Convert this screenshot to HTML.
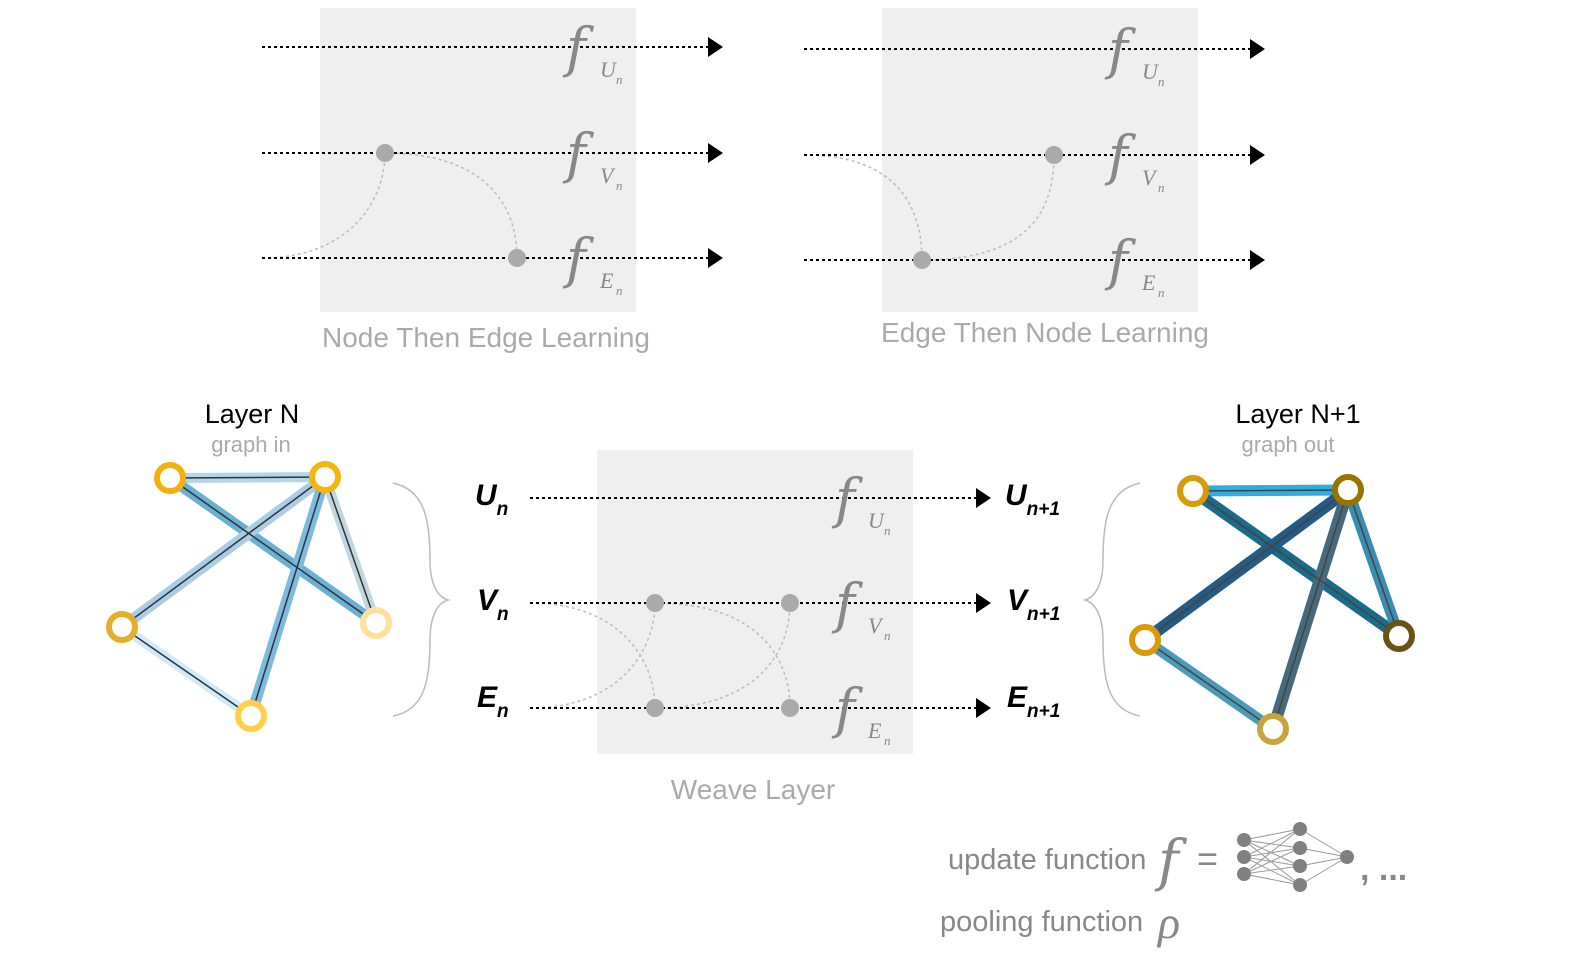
<!DOCTYPE html>
<html><head><style>html,body{margin:0;padding:0;background:#fff;overflow:hidden}svg{display:block}</style></head><body>
<svg width="1573" height="958" viewBox="0 0 1573 958" xmlns="http://www.w3.org/2000/svg" font-family="Liberation Sans, sans-serif">
<g fill="#efefef"><rect x="320" y="8" width="316" height="304"/><rect x="882" y="8" width="316" height="304"/><rect x="597" y="450" width="316" height="304"/></g>
<g stroke="#bbb" stroke-width="1.5" stroke-dasharray="3,3" fill="none">
<path d="M262,258 C350,258 385,200 385,153"/><path d="M385,153 C480,153 517,200 517,258"/>
<path d="M804,155 C900,155 922,210 922,260"/><path d="M922,260 C1030,260 1054,210 1054,155"/>
<path d="M530,603 C620,603 655,660 655,708"/><path d="M530,708 C620,708 655,650 655,603"/>
<path d="M655,603 C760,603 790,660 790,708"/><path d="M655,708 C760,708 790,650 790,603"/>
</g>
<g stroke="#000" stroke-width="2" stroke-dasharray="3,3">
<line x1="262" y1="47" x2="708" y2="47"/><line x1="262" y1="153" x2="708" y2="153"/><line x1="262" y1="258" x2="708" y2="258"/>
<line x1="804" y1="49" x2="1250" y2="49"/><line x1="804" y1="155" x2="1250" y2="155"/><line x1="804" y1="260" x2="1250" y2="260"/>
<line x1="530" y1="498" x2="976" y2="498"/><line x1="530" y1="603" x2="976" y2="603"/><line x1="530" y1="708" x2="976" y2="708"/>
</g>
<g fill="#000">
<path d="M708,37 L723,47 L708,57z"/><path d="M708,143 L723,153 L708,163z"/><path d="M708,248 L723,258 L708,268z"/>
<path d="M1250,39 L1265,49 L1250,59z"/><path d="M1250,145 L1265,155 L1250,165z"/><path d="M1250,250 L1265,260 L1250,270z"/>
<path d="M976,488 L991,498 L976,508z"/><path d="M976,593 L991,603 L976,613z"/><path d="M976,698 L991,708 L976,718z"/>
</g>
<g fill="#aaa"><circle cx="385" cy="153" r="9"/><circle cx="517" cy="258" r="9"/><circle cx="1054" cy="155" r="9"/><circle cx="922" cy="260" r="9"/>
<circle cx="655" cy="603" r="9"/><circle cx="790" cy="603" r="9"/><circle cx="655" cy="708" r="9"/><circle cx="790" cy="708" r="9"/></g>
<g font-family="DejaVu Serif, serif" font-style="italic" fill="#888">
<g font-size="54"><text x="566" y="66">f</text><text x="566" y="172">f</text><text x="566" y="277">f</text>
<text x="1108" y="68">f</text><text x="1108" y="174">f</text><text x="1108" y="279">f</text>
<text x="835" y="517">f</text><text x="835" y="622">f</text><text x="835" y="727">f</text></g>
</g>
<g font-family="Liberation Serif, serif" font-style="italic" fill="#888">
<g font-size="22"><text x="600" y="77">U</text><text x="600" y="183">V</text><text x="600" y="288">E</text>
<text x="1142" y="79">U</text><text x="1142" y="185">V</text><text x="1142" y="290">E</text>
<text x="868" y="528">U</text><text x="868" y="633">V</text><text x="868" y="738">E</text></g>
<g font-size="13"><text x="616" y="84">n</text><text x="616" y="190">n</text><text x="616" y="295">n</text>
<text x="1158" y="86">n</text><text x="1158" y="192">n</text><text x="1158" y="297">n</text>
<text x="884" y="535">n</text><text x="884" y="640">n</text><text x="884" y="745">n</text></g>
</g>
<g fill="#aaa" font-size="28" text-anchor="middle"><text x="486" y="347">Node Then Edge Learning</text><text x="1045" y="342">Edge Then Node Learning</text><text x="753" y="799">Weave Layer</text></g>
<g font-weight="bold" font-style="italic" fill="#000">
<text x="475" y="505" font-size="30">U<tspan font-size="19" dy="10">n</tspan></text>
<text x="477" y="610" font-size="30">V<tspan font-size="19" dy="10">n</tspan></text>
<text x="477" y="707" font-size="30">E<tspan font-size="19" dy="10">n</tspan></text>
<text x="1005" y="505" font-size="30">U<tspan font-size="19" dy="10">n+1</tspan></text>
<text x="1007" y="610" font-size="30">V<tspan font-size="19" dy="10">n+1</tspan></text>
<text x="1007" y="707" font-size="30">E<tspan font-size="19" dy="10">n+1</tspan></text>
</g>
<g fill="none" stroke="#bbb" stroke-width="1.5">
<path d="M393,483 C425,490 430,520 430,560 C430,585 438,597 448,600 C438,603 430,615 430,640 C430,680 425,710 393,716"/>
<path d="M1140,483 C1108,490 1103,520 1103,560 C1103,585 1095,597 1085,600 C1095,603 1103,615 1103,640 C1103,680 1108,710 1140,716"/>
</g>
<text x="252" y="423" font-size="27" text-anchor="middle" fill="#000">Layer N</text>
<text x="251" y="452" font-size="22" text-anchor="middle" fill="#aaa">graph in</text>
<text x="1298" y="423" font-size="27" text-anchor="middle" fill="#000">Layer N+1</text>
<text x="1288" y="452" font-size="22" text-anchor="middle" fill="#aaa">graph out</text>
<g stroke-linecap="round">
<line x1="170" y1="478" x2="325" y2="477" stroke="#b4d6ea" stroke-width="10"/>
<line x1="170" y1="478" x2="376" y2="623" stroke="#6aafd4" stroke-width="11"/>
<line x1="325" y1="477" x2="122" y2="627" stroke="#a9cde6" stroke-width="11"/>
<line x1="325" y1="477" x2="376" y2="623" stroke="#c0d6e0" stroke-width="10"/>
<line x1="325" y1="477" x2="251" y2="716" stroke="#7bbbe0" stroke-width="11"/>
<line x1="122" y1="627" x2="251" y2="716" stroke="#cfeaf8" stroke-width="10"/>
</g>
<g stroke="#333" stroke-width="1.5">
<line x1="170" y1="478" x2="325" y2="477"/><line x1="170" y1="478" x2="376" y2="623"/><line x1="325" y1="477" x2="122" y2="627"/>
<line x1="325" y1="477" x2="376" y2="623"/><line x1="325" y1="477" x2="251" y2="716"/><line x1="122" y1="627" x2="251" y2="716"/>
</g>
<g fill="#fff" stroke-width="6">
<circle cx="170" cy="478" r="13" stroke="#f2b20a"/><circle cx="325" cy="477" r="13" stroke="#f5b50c"/><circle cx="122" cy="627" r="13" stroke="#e3ae2c"/>
<circle cx="376" cy="623" r="13" stroke="#ffdf99"/><circle cx="251" cy="716" r="13" stroke="#ffcf48"/>
</g>
<g stroke-linecap="round">
<line x1="1193" y1="491" x2="1348" y2="490" stroke="#2aaee3" stroke-width="11"/>
<line x1="1193" y1="491" x2="1399" y2="636" stroke="#1a6a8a" stroke-width="12"/>
<line x1="1348" y1="490" x2="1145" y2="640" stroke="#235a86" stroke-width="12"/>
<line x1="1348" y1="490" x2="1399" y2="636" stroke="#3a8db0" stroke-width="11"/>
<line x1="1348" y1="490" x2="1273" y2="729" stroke="#466a7c" stroke-width="12"/>
<line x1="1145" y1="640" x2="1273" y2="729" stroke="#4a9ab8" stroke-width="11"/>
</g>
<g stroke="#444" stroke-width="1.5">
<line x1="1193" y1="491" x2="1348" y2="490"/><line x1="1193" y1="491" x2="1399" y2="636"/><line x1="1348" y1="490" x2="1145" y2="640"/>
<line x1="1348" y1="490" x2="1399" y2="636"/><line x1="1348" y1="490" x2="1273" y2="729"/><line x1="1145" y1="640" x2="1273" y2="729"/>
</g>
<g fill="#fff" stroke-width="6">
<circle cx="1193" cy="491" r="13" stroke="#d89a06"/><circle cx="1348" cy="490" r="13" stroke="#977400"/><circle cx="1145" cy="640" r="13" stroke="#d89a06"/>
<circle cx="1399" cy="636" r="13" stroke="#6b5114"/><circle cx="1273" cy="729" r="13" stroke="#c9a33e"/>
</g>
<text x="948" y="869" font-size="29" fill="#888">update function</text>
<text x="940" y="931" font-size="29" fill="#888">pooling function</text>
<text x="1158" y="880" font-size="56" font-family="DejaVu Serif, serif" font-style="italic" fill="#888">f</text>
<text x="1158" y="938" font-size="46" font-family="Liberation Serif, serif" font-style="italic" fill="#888">ρ</text>
<text x="1197" y="871" font-size="36" fill="#888">=</text>
<g stroke="#999" stroke-width="1">
<path d="M1244,840 L1300,829 M1244,840 L1300,848 M1244,840 L1300,866 M1244,840 L1300,885 M1244,857 L1300,829 M1244,857 L1300,848 M1244,857 L1300,866 M1244,857 L1300,885 M1244,874 L1300,829 M1244,874 L1300,848 M1244,874 L1300,866 M1244,874 L1300,885 M1300,829 L1347,857 M1300,848 L1347,857 M1300,866 L1347,857 M1300,885 L1347,857"/>
</g>
<g fill="#808080"><circle cx="1244" cy="840" r="7"/><circle cx="1244" cy="857" r="7"/><circle cx="1244" cy="874" r="7"/>
<circle cx="1300" cy="829" r="7"/><circle cx="1300" cy="848" r="7"/><circle cx="1300" cy="866" r="7"/><circle cx="1300" cy="885" r="7"/><circle cx="1347" cy="857" r="7"/></g>
<text x="1360" y="880" font-size="34" font-weight="bold" fill="#888">, ...</text>
</svg>
</body></html>
